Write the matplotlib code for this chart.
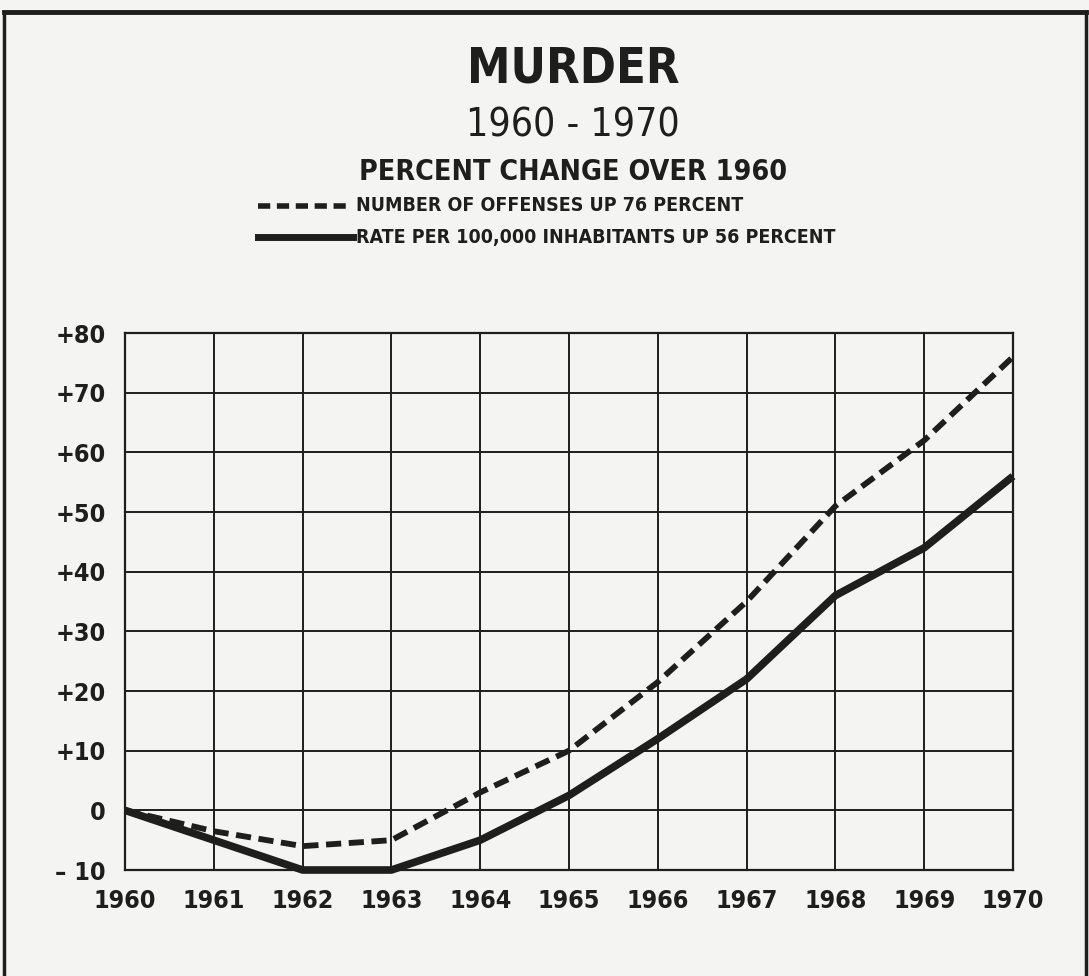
import numpy as np
import matplotlib
matplotlib.use("Agg")
import matplotlib.pyplot as plt
from matplotlib.lines import Line2D

# data (percent change over 1960)
years = [1960, 1961, 1962, 1963, 1964, 1965, 1966, 1967, 1968, 1969, 1970]
offenses = [0, -3.5, -6, -5, 3, 10, 21.5, 35, 51, 62, 76]
rate = [0, -5, -10, -10, -5, 2.5, 12, 22, 36, 44, 56]
yticks = [-10, 0, 10, 20, 30, 40, 50, 60, 70, 80]
ylabels = ['\u2013 10', '0', '+10', '+20', '+30', '+40', '+50', '+60', '+70', '+80']

ink = '#1e1e1e'
paper = '#f4f4f2'
cond = dict(family='DejaVu Sans', stretch='condensed')

fig = plt.figure(figsize=(10.89, 9.76), dpi=100, facecolor=paper)

# outer border of the page
fig.add_artist(Line2D([0.004, 0.004], [0.0, 0.988], color=ink, lw=2.5))
fig.add_artist(Line2D([0.004, 0.997], [0.988, 0.988], color=ink, lw=3.5))
fig.add_artist(Line2D([0.997, 0.997], [0.0, 0.988], color=ink, lw=2.5))

# titles
fig.text(0.526, 0.930, 'MURDER', ha='center', va='center', fontsize=35,
         weight='bold', color=ink, **cond)
fig.text(0.526, 0.871, '1960 - 1970', ha='center', va='center', fontsize=28,
         color=ink, **cond)
fig.text(0.526, 0.824, 'PERCENT CHANGE OVER 1960', ha='center', va='center',
         fontsize=20.5, weight='bold', color=ink, **cond)

# legend drawn by hand under the subtitle
fig.add_artist(Line2D([0.237, 0.320], [0.789, 0.789], color=ink, lw=4,
                      dashes=(2.2, 1.2)))
fig.text(0.327, 0.789, 'NUMBER OF OFFENSES UP 76 PERCENT', ha='left',
         va='center', fontsize=14, weight='bold', color=ink, **cond)
fig.add_artist(Line2D([0.237, 0.324], [0.757, 0.757], color=ink, lw=5))
fig.text(0.327, 0.757, 'RATE PER 100,000 INHABITANTS UP 56 PERCENT', ha='left',
         va='center', fontsize=14, weight='bold', color=ink, **cond)

ax = fig.add_axes([0.1148, 0.1086, 0.8154, 0.5502])
ax.set_facecolor(paper)

ax.plot(years, offenses, color=ink, lw=4.2, dashes=(2.6, 1.3),
        solid_joinstyle='round', zorder=3, clip_on=False)
ax.plot(years, rate, color=ink, lw=5.5, solid_joinstyle='round',
        solid_capstyle='butt', zorder=3, clip_on=False)

ax.set_xlim(1960, 1970)
ax.set_ylim(-10, 80)
ax.set_xticks(years)
ax.set_xticklabels([str(y) for y in years])
ax.set_yticks(yticks)
ax.set_yticklabels(ylabels)
ax.grid(True, color=ink, lw=1.4)
ax.set_axisbelow(True)
for s in ax.spines.values():
    s.set_color(ink)
    s.set_linewidth(1.6)
ax.tick_params(axis='x', length=0, pad=14, colors=ink)
ax.tick_params(axis='y', length=0, pad=14, colors=ink)
for lab in ax.get_xticklabels() + ax.get_yticklabels():
    lab.set_fontsize(18)
    lab.set_fontweight('heavy')
    lab.set_fontstretch('condensed')

fig.savefig('out.png', dpi=100, facecolor=paper)
